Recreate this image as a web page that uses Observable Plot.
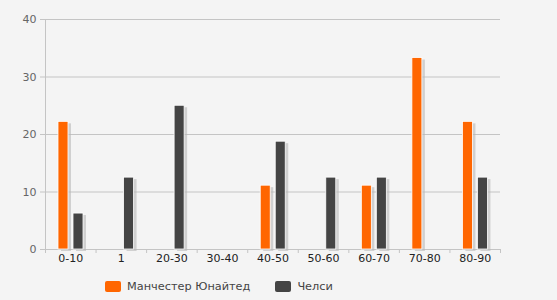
<!DOCTYPE html>
<html>
<head>
<meta charset="utf-8">
<script src="https://cdn.jsdelivr.net/npm/d3@7"></script>
<script src="https://cdn.jsdelivr.net/npm/@observablehq/plot@0.6"></script>
<style>
  html, body { margin: 0; padding: 0; background: #f4f4f4; width: 557px; height: 300px; overflow: hidden; }
  #chart svg { display: block; }
  .legend { height: 30px; display: flex; align-items: center; padding-left: 105px; padding-top: 3px; box-sizing: border-box; font-family: "DejaVu Sans", Verdana, sans-serif; font-size: 11.3px; color: #444; }
  .legend .item { display: flex; align-items: center; margin-right: 25px; }
  .legend .sw { width: 16px; height: 11px; border-radius: 2px; margin-right: 6px; }
</style>
</head>
<body>
<div id="chart"></div>
<div class="legend" id="legend"></div>
<script>
const categories = ["0-10", "1", "20-30", "30-40", "40-50", "50-60", "60-70", "70-80", "80-90"];
const seriesNames = ["Манчестер Юнайтед", "Челси"];
const manUtd = [22.2, 0, 0, 0, 11.1, 0, 11.1, 33.3, 22.2];
const chelsea = [6.25, 12.5, 25, 0, 18.75, 12.5, 12.5, 0, 12.5];
const yTicks = [0, 10, 20, 30, 40];
const colors = ["#ff6600", "#444444"];

const rows = [];
categories.forEach((c, i) => {
  rows.push({cat: c, series: seriesNames[0], value: manUtd[i]});
  rows.push({cat: c, series: seriesNames[1], value: chelsea[i]});
});
const data = rows.filter(d => d.value > 0);
const muData = data.filter(d => d.series === seriesNames[0]);
const chData = data.filter(d => d.series === seriesNames[1]);

const W = 557, H = 270, mL = 45, mR = 57, mT = 19, mB = 21;
const step = (W - mL - mR) / categories.length;
// bar insets within each band
const muIns = {insetLeft: 13, insetRight: step - 23};
const chIns = {insetLeft: 28, insetRight: step - 38};

const font = "DejaVu Sans, Verdana, sans-serif";

const chart = Plot.plot({
  width: W, height: H,
  marginLeft: mL, marginRight: mR, marginTop: mT, marginBottom: mB,
  style: {background: "#f4f4f4", fontFamily: font, fontSize: "11px", color: "#555", overflow: "visible"},
  x: {domain: categories, padding: 0, round: false, label: null},
  y: {domain: [0, 40], label: null},
  marks: [
    Plot.ruleY(yTicks.filter(t => t > 0), {y: d => d, stroke: "#c4c4c4", strokeWidth: 1}),
    Plot.ruleX([0], {x: () => categories[0], dx: -step / 2, y1: 0, y2: 40, stroke: "#c4c4c4"}),
    Plot.ruleY([0], {stroke: "#c4c4c4"}),
    // category boundary ticks
    Plot.ruleX(categories, {x: d => d, dx: -step / 2, y1: 0, y2: -0.7, stroke: "#c4c4c4"}),
    Plot.ruleX([categories[categories.length - 1]], {x: d => d, dx: step / 2, y1: 0, y2: -0.7, stroke: "#c4c4c4"}),
    // shadows
    Plot.barY(muData, {x: "cat", y: "value", ...muIns, dx: 3, dy: 2, fill: "#b8b8b8", fillOpacity: 0.6}),
    Plot.barY(chData, {x: "cat", y: "value", ...chIns, dx: 3, dy: 2, fill: "#b8b8b8", fillOpacity: 0.6}),
    // bars
    Plot.barY(muData, {x: "cat", y: "value", ...muIns, fill: colors[0], stroke: "#ffffff", strokeWidth: 0.8}),
    Plot.barY(chData, {x: "cat", y: "value", ...chIns, fill: colors[1], stroke: "#ffffff", strokeWidth: 0.8}),
    Plot.axisY(yTicks, {tickSize: 5, tickPadding: 4, stroke: "#c4c4c4", fill: "#666", fontSize: 11}),
    Plot.axisX({tickSize: 0, tickPadding: 5, fill: "#222", fontSize: 11})
  ]
});
document.getElementById("chart").appendChild(chart);

const legend = document.getElementById("legend");
seriesNames.forEach((n, i) => {
  const item = document.createElement("div");
  item.className = "item";
  const sw = document.createElement("div");
  sw.className = "sw";
  sw.style.background = colors[i];
  const t = document.createElement("span");
  t.textContent = n;
  item.appendChild(sw); item.appendChild(t);
  legend.appendChild(item);
});
</script>
</body>
</html>
